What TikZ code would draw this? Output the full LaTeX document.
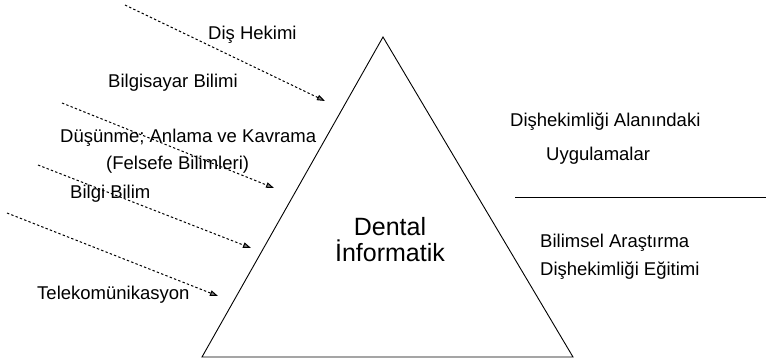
\documentclass[tikz,border=0pt]{standalone}
\usepackage{fontspec}
\setmainfont{Liberation Sans}
\usetikzlibrary{arrows.meta}
\begin{document}
\begin{tikzpicture}[x=1pt,y=-1pt,
  lbl/.style={inner sep=0pt, anchor=base west, font=\fontsize{18.5}{22}\selectfont},
  feed/.style={line width=1pt, dash pattern=on 2.4pt off 2.2pt,
    -{Triangle[length=8pt,width=5.5pt,fill=gray]}},
  edgeline/.style={line width=0.9pt}]
\useasboundingbox (0,0) rectangle (766,361);
% triangle
\coordinate (apex) at (383,37);
\coordinate (bl) at (202,357);
\coordinate (br) at (573,357);
\draw[edgeline] (apex) -- (bl) -- (br) -- cycle;
\node[inner sep=0pt, align=center, font=\fontsize{25}{26}\selectfont] (dental) at (390,240) {Dental\\İnformatik};
% left labels
\node[lbl] (dis) at (208,39.5) {Diş Hekimi};
\node[lbl] (bilg) at (108,87.5) {Bilgisayar Bilimi};
\node[lbl] (dus) at (60,142.5) {Düşünme; Anlama ve Kavrama};
\node[lbl] (fel) at (106,169.5) {(Felsefe Bilimleri)};
\node[lbl] (bb) at (70,198.5) {Bilgi Bilim};
\node[lbl] (tel) at (37,299.5) {Telekomünikasyon};
% arrows
\coordinate (s1) at (125,5);   \coordinate (e1) at (325,101);
\coordinate (s2) at (62,103);  \coordinate (e2) at (274,188);
\coordinate (s3) at (38,165);  \coordinate (e3) at (251,248);
\coordinate (s4) at (7,213);   \coordinate (e4) at (218,296);
\draw[feed] (s1) -- (e1);
\draw[feed] (s2) -- (e2);
\draw[feed] (s3) -- (e3);
\draw[feed] (s4) -- (e4);
% right labels
\node[lbl] (r1) at (510,126.5) {Dişhekimliği Alanındaki};
\node[lbl] (r2) at (546,160.5) {Uygulamalar};
\coordinate (l1) at (515,197);
\coordinate (l2) at (766,197);
\draw[line width=0.8pt] (l1) -- (l2);
\node[lbl] (r3) at (540,247.5) {Bilimsel Araştırma};
\node[lbl] (r4) at (540,275.5) {Dişhekimliği Eğitimi};
\end{tikzpicture}
\end{document}
